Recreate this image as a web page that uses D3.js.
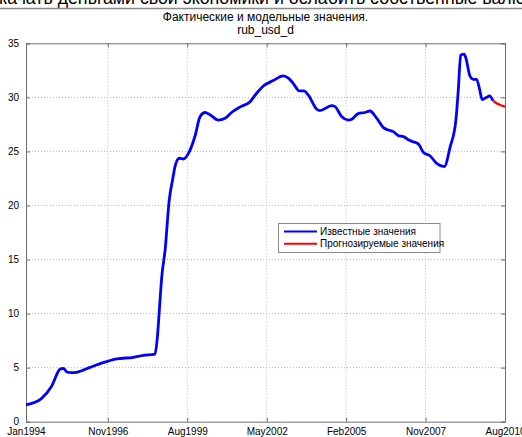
<!DOCTYPE html>
<html><head><meta charset="utf-8">
<script src="https://cdn.jsdelivr.net/npm/d3@7"></script>
<style>body{margin:0;background:#fff;} svg{display:block;font-family:"Liberation Sans",Arial,sans-serif;}</style>
</head><body><svg id="c" width="522" height="437"></svg>
<script>
// month index from Jan1994
const knownMonths = [0,6.5,10.7,14.1,15.5,17,19,21,26.6,32.1,37.7,44.6,48.7,53.6,54.6,55.4,56.4,57.8,59.5,61,61.9,63.7,65.4,68.1,70.2,72.3,74.4,76.4,79.9,82.7,85.4,88.9,93.1,95.8,98.6,102.7,106.9,109,111,113.5,115.5,117.3,120.8,122.1,127,128.4,131.2,133.9,135.3,138,140.8,142.9,145.7,148.5,150.5,152.6,154.7,156.8,159.5,163,165.1,167.8,170.6,173.8,176.2,178.6,179.6,180.6,182,182.8,184.4,185.8,187.2,188.5,189.5,191.4,192.5,194];
const knownValues = [1.55,2.16,3.3,4.85,4.94,4.6,4.53,4.57,5.03,5.46,5.8,5.96,6.14,6.26,7.87,10.33,13.4,15.9,20.5,22.5,23.6,24.37,24.3,25.1,26.4,28.2,28.6,28.4,27.9,28.07,28.6,29.1,29.6,30.38,31.05,31.55,31.98,31.77,31.3,30.6,30.6,30.2,28.9,28.77,29.23,29.14,28.2,27.9,27.97,28.5,28.6,28.74,28.07,27.2,26.98,26.83,26.46,26.37,26.0,25.7,24.9,24.6,23.9,23.6,25.4,27.9,30.7,33.9,34.0,33.6,32.0,31.67,31.67,30.7,29.8,30.0,30.13,29.7];
const forecastMonths = [194,195.5,197,199];
const forecastValues = [29.7,29.45,29.3,29.14];
const xTickMonths = [0,34,67,100,133,166,199];
const xTickLabels = ["Jan1994","Nov1996","Aug1999","May2002","Feb2005","Nov2007","Aug2010"];
const yTicks = [0,5,10,15,20,25,30,35];
const titleLines = ["Фактические и модельные значения.","rub_usd_d"];
const legendLabels = ["Известные значения","Прогнозируемые значения"];
const legendColors = ["#0000ff","#ff0000"];
const topText = "качать деньгами свои экономики и ослабить собственные валю";

const svg = d3.select("#c");
const L=26, R=505, T=43.3, B=421.7;
const x = d3.scaleLinear().domain([0,199]).range([L,R]);
const y = d3.scaleLinear().domain([0,35]).range([B,T]);

// cut-off text at top
svg.append("text").attr("x",-1).attr("y",4).attr("font-size",18.5)
  .attr("textLength",526).attr("lengthAdjust","spacingAndGlyphs")
  .attr("fill","#000").text(topText);
svg.append("line").attr("x1",0).attr("x2",522).attr("y1",8.5).attr("y2",8.5).attr("stroke","#8a8a8a").attr("stroke-width",1.5);

// grid
const g = svg.append("g");
g.selectAll(".gx").data(xTickMonths.slice(1,-1)).join("line")
  .attr("x1",d=>x(d)).attr("x2",d=>x(d)).attr("y1",T).attr("y2",B)
  .attr("stroke","#b8b8b8").attr("stroke-dasharray","1,2");
g.selectAll(".gy").data(yTicks.slice(1,-1)).join("line")
  .attr("y1",d=>y(d)).attr("y2",d=>y(d)).attr("x1",L).attr("x2",R)
  .attr("stroke","#b8b8b8").attr("stroke-dasharray","1,2");

// axes
const ax = d3.axisBottom(x).tickValues(xTickMonths).tickSize(-4).tickPadding(7)
  .tickFormat((d,i)=>xTickLabels[i]);
const axG = svg.append("g").attr("transform",`translate(0,${B})`).call(ax);
const ay = d3.axisLeft(y).tickValues(yTicks).tickSize(-4).tickPadding(7);
const ayG = svg.append("g").attr("transform",`translate(${L},0)`).call(ay);
svg.append("g").attr("transform",`translate(0,${T})`).call(d3.axisTop(x).tickValues(xTickMonths).tickSize(-4).tickFormat(""));
svg.append("g").attr("transform",`translate(${R},0)`).call(d3.axisRight(y).tickValues(yTicks).tickSize(-4).tickFormat(""));
svg.selectAll(".domain").attr("stroke","#6e6e6e");
svg.selectAll(".tick line").attr("stroke","#6e6e6e");
svg.selectAll(".tick text").attr("font-size",10).attr("fill","#000").attr("font-family","Liberation Sans, Arial, sans-serif");
axG.selectAll(".tick text").attr("dy","0.6em");

// lines
const line = d3.line().x(d=>x(d[0])).y(d=>y(d[1])).curve(d3.curveMonotoneX);
svg.append("path").datum(d3.zip(knownMonths,knownValues)).attr("d",line)
  .attr("fill","none").attr("stroke",legendColors[0]).attr("stroke-width",2.8).attr("stroke-linejoin","round");
svg.append("path").datum(d3.zip(forecastMonths,forecastValues)).attr("d",line)
  .attr("fill","none").attr("stroke",legendColors[1]).attr("stroke-width",2.2);

// title
svg.selectAll(".tt").data(titleLines).join("text")
  .attr("x",(L+R)/2).attr("y",(d,i)=>21+i*13).attr("text-anchor","middle")
  .attr("font-size",12).attr("fill","#000").text(d=>d);

// legend
const lg = svg.append("g");
lg.append("rect").attr("x",278.5).attr("y",223.5).attr("width",161.5).attr("height",29)
  .attr("fill","#fff").attr("stroke","#8a8a8a");
legendLabels.forEach((t,i)=>{
  const yy = 231.5 + i*12.3;
  lg.append("line").attr("x1",284).attr("x2",317).attr("y1",yy).attr("y2",yy)
    .attr("stroke",legendColors[i]).attr("stroke-width",2);
  lg.append("text").attr("x",320).attr("y",yy).attr("dy","0.35em").attr("font-size",10).attr("fill","#000").text(t);
});
</script></body></html>
